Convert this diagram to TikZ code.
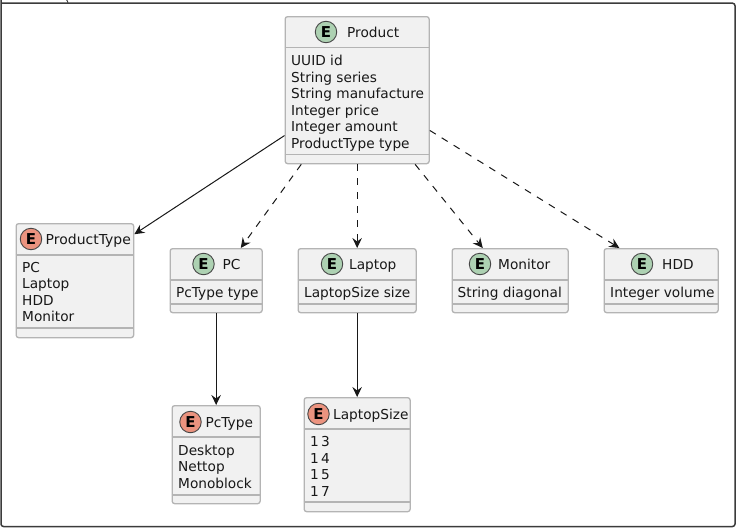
\documentclass[tikz,border=0pt]{standalone}
\usepackage{fontspec}
\setmainfont{DejaVu Sans}
\usetikzlibrary{arrows.meta,calc}
\definecolor{boxfill}{HTML}{F1F1F1}
\definecolor{boxline}{HTML}{B4B4B4}
\definecolor{ink}{HTML}{181818}
\definecolor{spotE}{HTML}{ADD1B2}
\definecolor{spotR}{HTML}{EB937F}
\tikzset{
  x=1pt,y=-1pt,
  ent/.style={draw=boxline,fill=boxfill,line width=1.3pt,rounded corners=2.5pt,inner sep=0pt,anchor=north west},
  sepline/.style={draw=boxline,line width=1.3pt},
  spot/.style={circle,draw=ink!80,line width=.9pt,minimum size=21.5pt,inner sep=0pt,font=\bfseries\fontsize{15}{15}\selectfont,text=black},
  title/.style={anchor=base west,inner sep=0pt,font=\fontsize{13.7}{16}\selectfont,text=ink},
  body/.style={anchor=north west,inner sep=0pt,align=left,font=\fontsize{13.7}{16.5}\selectfont,text=ink},
  assoc/.style={draw=ink,line width=1pt,-{Stealth[length=10pt,width=9.5pt,inset=3.5pt]}},
  dep/.style={assoc,dash pattern=on 7pt off 7pt},
  frameln/.style={draw=ink!85,line width=1.5pt}
}
\newcommand{\entbox}[7]{% name,x,y,w,h,sep1,sep2
  \node[ent,minimum width=#4pt,minimum height=#5pt] (#1) at (#2,#3) {};
  \draw[sepline] (#2,#6) -- ++(#4,0);
  \draw[sepline] (#2,#7) -- ++(#4,0);
}
\begin{document}
\begin{tikzpicture}
\useasboundingbox (0,0) rectangle (738,530);
\fill[white] (0,0) rectangle (738,530);
% outer frame
\draw[frameln,rounded corners=2.5pt] (1,-2) -- (1,526.5) -- (735,526.5) -- (735,3.2) -- (1,3.2);
\draw[frameln,line width=.9pt] (66,-1) .. controls (67.5,1) and (68,2) .. (68,3.2);
% boxes
\entbox{product}{284.5}{16}{144}{147}{47.5}{154.5}
\entbox{ptype}{15.5}{223}{117.5}{114}{255}{328}
\entbox{pc}{169.5}{248}{92}{64}{280}{304}
\entbox{laptop}{297.5}{248}{118}{64}{280}{304}
\entbox{monitor}{451.5}{248}{116}{64}{280}{304}
\entbox{hdd}{603.5}{248}{114}{64}{280}{304}
\entbox{pctype}{171.5}{405}{88}{98}{437}{495}
\entbox{lsize}{303.5}{397}{106}{114}{429}{502}
% spots
\node[spot,fill=spotE] (s1) at (326,32) {E};
\node[spot,fill=spotR] (s2) at (31,239) {E};
\node[spot,fill=spotE] (s3) at (203.5,264) {E};
\node[spot,fill=spotE] (s4) at (332,264) {E};
\node[spot,fill=spotE] (s5) at (480,264) {E};
\node[spot,fill=spotE] (s6) at (642,264) {E};
\node[spot,fill=spotR] (s7) at (190.5,422) {E};
\node[spot,fill=spotR] (s8) at (318.5,414) {E};
% titles
\node[title] (t1) at (347,37) {Product};
\node[title,xscale=1.02] (t2) at (45.5,244) {ProductType};
\node[title] (t3) at (222.5,269) {PC};
\node[title] (t4) at (349,269) {Laptop};
\node[title] (t5) at (498,269) {Monitor};
\node[title] (t6) at (662,269) {HDD};
\node[title] (t7) at (205.5,427) {PcType};
\node[title] (t8) at (333,419) {LaptopSize};
% bodies
\node[body] (b1) at (291,55) {UUID id\\String series\\String manufacture\\Integer price\\Integer amount\\ProductType type};
\node[body] (b2) at (22,262) {PC\\Laptop\\HDD\\Monitor};
\node[body] (b3) at (176,287) {PcType type};
\node[body] (b4) at (304,287) {LaptopSize size};
\node[body] (b5) at (457.5,287) {String diagonal};
\node[body] (b6) at (610,287) {Integer volume};
\node[body] (b7) at (178,444.5) {Desktop\\Nettop\\Monoblock};
\node[body] (b8) at (310,436.5) {1\,3\\1\,4\\1\,5\\1\,7};
% connectors
\draw[assoc] (product.212.9) -- (ptype.38.7);
\draw[dep] (product.233.2) -- (pc.53.1);
\draw[dep] (product.south) -- (laptop.north);
\draw[dep] (product.308.8) -- (monitor.130.2);
\draw[dep] (product.331.3) -- (hdd.142);
\draw[assoc] (pc.south) -- (pctype.north);
\draw[assoc] (laptop.south) -- (lsize.north);
\end{tikzpicture}
\end{document}
